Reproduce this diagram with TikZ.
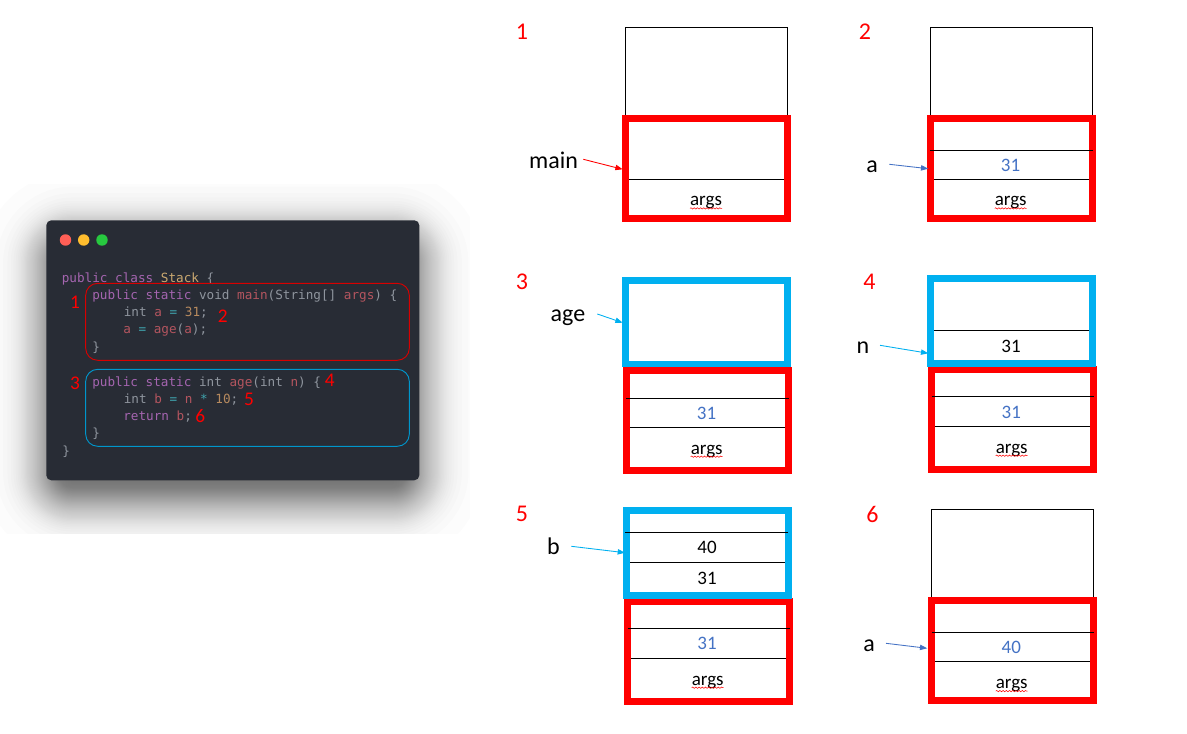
\documentclass[tikz,border=0pt]{standalone}
\usepackage{fontspec}
\setmainfont{Carlito}
\newfontfamily\codefont{DejaVu Sans Mono}
\usetikzlibrary{arrows.meta,decorations.pathmorphing}
\definecolor{winbg}{HTML}{282C35}
\definecolor{ckw}{HTML}{A565B0}
\definecolor{cpl}{HTML}{8F959E}
\definecolor{cvar}{HTML}{B4555F}
\definecolor{cnum}{HTML}{B78A5E}
\definecolor{cop}{HTML}{3FA3AD}
\definecolor{cty}{HTML}{CBA971}
\definecolor{fred}{HTML}{FF0000}
\definecolor{fblue}{HTML}{00B0F0}
\definecolor{vblue}{HTML}{4472C4}
\newcommand{\kw}[1]{\textcolor{ckw}{#1}}
\newcommand{\pl}[1]{\textcolor{cpl}{#1}}
\newcommand{\vr}[1]{\textcolor{cvar}{#1}}
\newcommand{\nm}[1]{\textcolor{cnum}{#1}}
\newcommand{\op}[1]{\textcolor{cop}{#1}}
\newcommand{\ty}[1]{\textcolor{cty}{#1}}
\newcommand{\argsat}[3]{%
  \node[cell,anchor=base] (#1) at (#2,#3) {args};
  \draw[squiggle] ([xshift=-12pt]#1.base |- 0,#3+3.4) -- ([xshift=12pt]#1.base |- 0,#3+3.4);}
\tikzset{
  x=0.75pt,y=-0.75pt,
  code/.style={font=\codefont\fontsize{9.5}{11}\selectfont,anchor=base west,inner sep=0pt,text=cpl},
  codenum/.style={font=\fontsize{14.5}{16}\selectfont,text=fred,inner sep=0pt},
  stepnum/.style={font=\fontsize{18}{20}\selectfont,text=fred,inner sep=0pt},
  varname/.style={font=\fontsize{18}{20}\selectfont,text=black,inner sep=0pt},
  cell/.style={font=\fontsize{14.25}{16}\selectfont,inner sep=0pt,yshift=-0.6pt},
  val/.style={cell,anchor=base,text=vblue},
  valk/.style={cell,anchor=base,text=black},
  squiggle/.style={draw=fred,line width=0.4pt,decorate,decoration={snake,amplitude=0.5pt,segment length=2.4pt}},
  thinbox/.style={draw=black,line width=0.75pt},
  redframe/.style={draw=fred,line width=5pt,miter limit=10},
  blueframe/.style={draw=fblue,line width=5pt,miter limit=10},
  divider/.style={draw=black,line width=0.75pt},
  ptr/.style={line width=0.65pt,-{Triangle[length=5.5pt,width=4pt]}},
  dot/.style={circle,inner sep=0pt,minimum size=8.6pt},
}
\begin{document}
\begin{tikzpicture}
\useasboundingbox (0,0) rectangle (1187,734);
% window shadow
\begin{scope}
\clip (0,185) rectangle (470,533);
\foreach \i in {0,...,79}{
  \pgfmathsetmacro\pp{(\i+0.5)/80}
  \pgfmathsetmacro\d{12.5*ln(\pp/(1-\pp))}
  \pgfmathsetmacro\rr{max(6,20+0.75*\d)}
  \fill[black,opacity=0.0115,rounded corners=\rr pt] (46-\d,236-\d) rectangle (419+\d,499+\d);
}
\end{scope}
% window
\fill[winbg,rounded corners=3.75pt] (46.3,220.3) rectangle (419.3,480.3);
\node[dot,fill={rgb,255:red,255;green,95;blue,86}] (d1) at (65.5,240) {};
\node[dot,fill={rgb,255:red,255;green,189;blue,46}] (d2) at (83.7,240) {};
\node[dot,fill={rgb,255:red,39;green,201;blue,63}] (d3) at (102,240) {};
% code
\node[code] (l1) at (61.5,282) {\kw{public class} \ty{Stack} \pl{\{}};
\node[code] (l2) at (92,299) {\kw{public static} \pl{void} \vr{main}\pl{(String[]} \vr{args}\pl{) \{}};
\node[code] (l3) at (123.6,316.5) {\pl{int} \vr{a} \op{=} \nm{31}\pl{;}};
\node[code] (l4) at (123,333.5) {\vr{a} \op{=} \vr{age}\pl{(}\vr{a}\pl{);}};
\node[code] (l5) at (92,351) {\pl{\}}};
\node[code] (l6) at (92,386) {\kw{public static} \pl{int} \vr{age}\pl{(int} \vr{n}\pl{) \{}};
\node[code] (l7) at (123.6,403) {\pl{int} \vr{b} \op{=} \vr{n} \op{*} \nm{10}\pl{;}};
\node[code] (l8) at (123,420.5) {\kw{return} \vr{b}\pl{;}};
\node[code] (l9) at (92,437.5) {\pl{\}}};
\node[code] (l10) at (62,455) {\pl{\}}};
% method outlines
\draw[draw=fred!85!black,line width=0.7pt,rounded corners=9pt] (85.7,283.3) rectangle (409.3,360.3);
\draw[draw=fblue!85!black,line width=0.7pt,rounded corners=9pt] (85.7,369.3) rectangle (409.3,446.3);
\node[codenum] (c1) at (75,302) {1};
\node[codenum] (c2) at (222.7,316) {2};
\node[codenum] (c3) at (75,383) {3};
\node[codenum] (c4) at (329.7,380.7) {4};
\node[codenum] (c5) at (249,399) {5};
\node[codenum] (c6) at (200.3,416.3) {6};
% step numbers
\node[stepnum] (s1) at (522,32) {1};
\node[stepnum] (s2) at (865,32) {2};
\node[stepnum] (s3) at (522,282) {3};
\node[stepnum] (s4) at (869.5,282) {4};
\node[stepnum] (s5) at (522,514) {5};
\node[stepnum] (s6) at (872.5,514) {6};
% ---- stack 1
\draw[thinbox] (625.5,118) |- (787.5,27.4) -- (787.5,118);
\draw[divider] (628,179.3) -- (785,179.3);
\draw[redframe] (625.7,118.3) rectangle (787.4,218.3);
\argsat{a1}{706}{205}
\node[varname] (n1) at (553.5,160.5) {main};
\coordinate (f1) at (583.3,159.3);
\coordinate (t1) at (622.7,169.3);
\draw[ptr,fred] (f1) -- (t1);
% ---- stack 2
\draw[thinbox] (930.3,118) |- (1092.3,27.4) -- (1092.3,118);
\draw[divider] (933,179.3) -- (1090,179.3);
\draw[redframe] (930.7,118.3) rectangle (1092.4,218.3);
\draw[divider] (930.3,150.3) -- (1092.5,150.3);
\node[val] (v2) at (1010.5,171) {31};
\argsat{a2}{1010.7}{205}
\node[varname] (n2) at (872,167) {a};
\coordinate (f2) at (889.3,164.3);
\coordinate (t2) at (928.3,168.7);
\draw[ptr,vblue] (f2) -- (t2);
% ---- stack 3
\draw[divider] (629,427.3) -- (786,427.3);
\draw[redframe] (626.7,370.7) rectangle (788.5,470.2);
\draw[blueframe] (625.7,280.3) rectangle (787.5,364);
\draw[divider] (626.3,398.3) -- (788.7,398.3);
\node[val] (v3) at (706.5,419) {31};
\argsat{a3}{706.7}{453.3}
\node[varname] (n3) at (568,318) {age};
\coordinate (f3) at (597.3,314);
\coordinate (t3) at (622.7,322.7);
\draw[ptr,fblue] (f3) -- (t3);
% ---- stack 4
\draw[divider] (934,426.3) -- (1091,426.3);
\draw[redframe] (931.4,369.5) rectangle (1093.6,469.3);
\draw[divider] (933,330.3) -- (1090,330.3);
\draw[blueframe] (930.7,278.5) rectangle (1092.4,363.3);
\draw[divider] (931.7,396.3) -- (1094,396.3);
\node[valk] (k4) at (1011,352) {31};
\node[val] (v4) at (1011.3,418) {31};
\argsat{a4}{1011.7}{452.3}
\node[varname] (n4) at (863,347.5) {n};
\coordinate (f4) at (880,345.3);
\coordinate (t4) at (928.3,353.3);
\draw[ptr,fblue] (f4) -- (t4);
% ---- stack 5
\draw[divider] (630,658.3) -- (787,658.3);
\draw[redframe] (627.3,601.7) rectangle (789.6,701.5);
\draw[divider] (629,562.3) -- (786,562.3);
\draw[blueframe] (626.7,510.5) rectangle (788.5,595.5);
\draw[divider] (625,532.3) -- (787.7,532.3);
\draw[divider] (627.7,628.3) -- (789.7,628.3);
\node[valk] (k5a) at (707,552.7) {40};
\node[valk] (k5b) at (707,583.3) {31};
\node[val] (v5) at (707,649) {31};
\argsat{a5}{707.7}{684.3}
\node[varname] (n5) at (553.5,546) {b};
\coordinate (f5) at (571.3,546.3);
\coordinate (t5) at (625,552.7);
\draw[ptr,fblue] (f5) -- (t5);
% ---- stack 6
\draw[thinbox] (931.3,600) |- (1093.7,509.3) -- (1093.7,600);
\draw[divider] (934,661.3) -- (1091,661.3);
\draw[redframe] (931.4,600.5) rectangle (1093.6,700.3);
\draw[divider] (931.5,632.3) -- (1094,632.3);
\node[val] (v6) at (1011.3,652.7) {40};
\argsat{a6}{1011.7}{687.7}
\node[varname] (n6) at (869,646) {a};
\coordinate (f6) at (886,643.3);
\coordinate (t6) at (927.3,648.3);
\draw[ptr,vblue] (f6) -- (t6);
\end{tikzpicture}
\end{document}
